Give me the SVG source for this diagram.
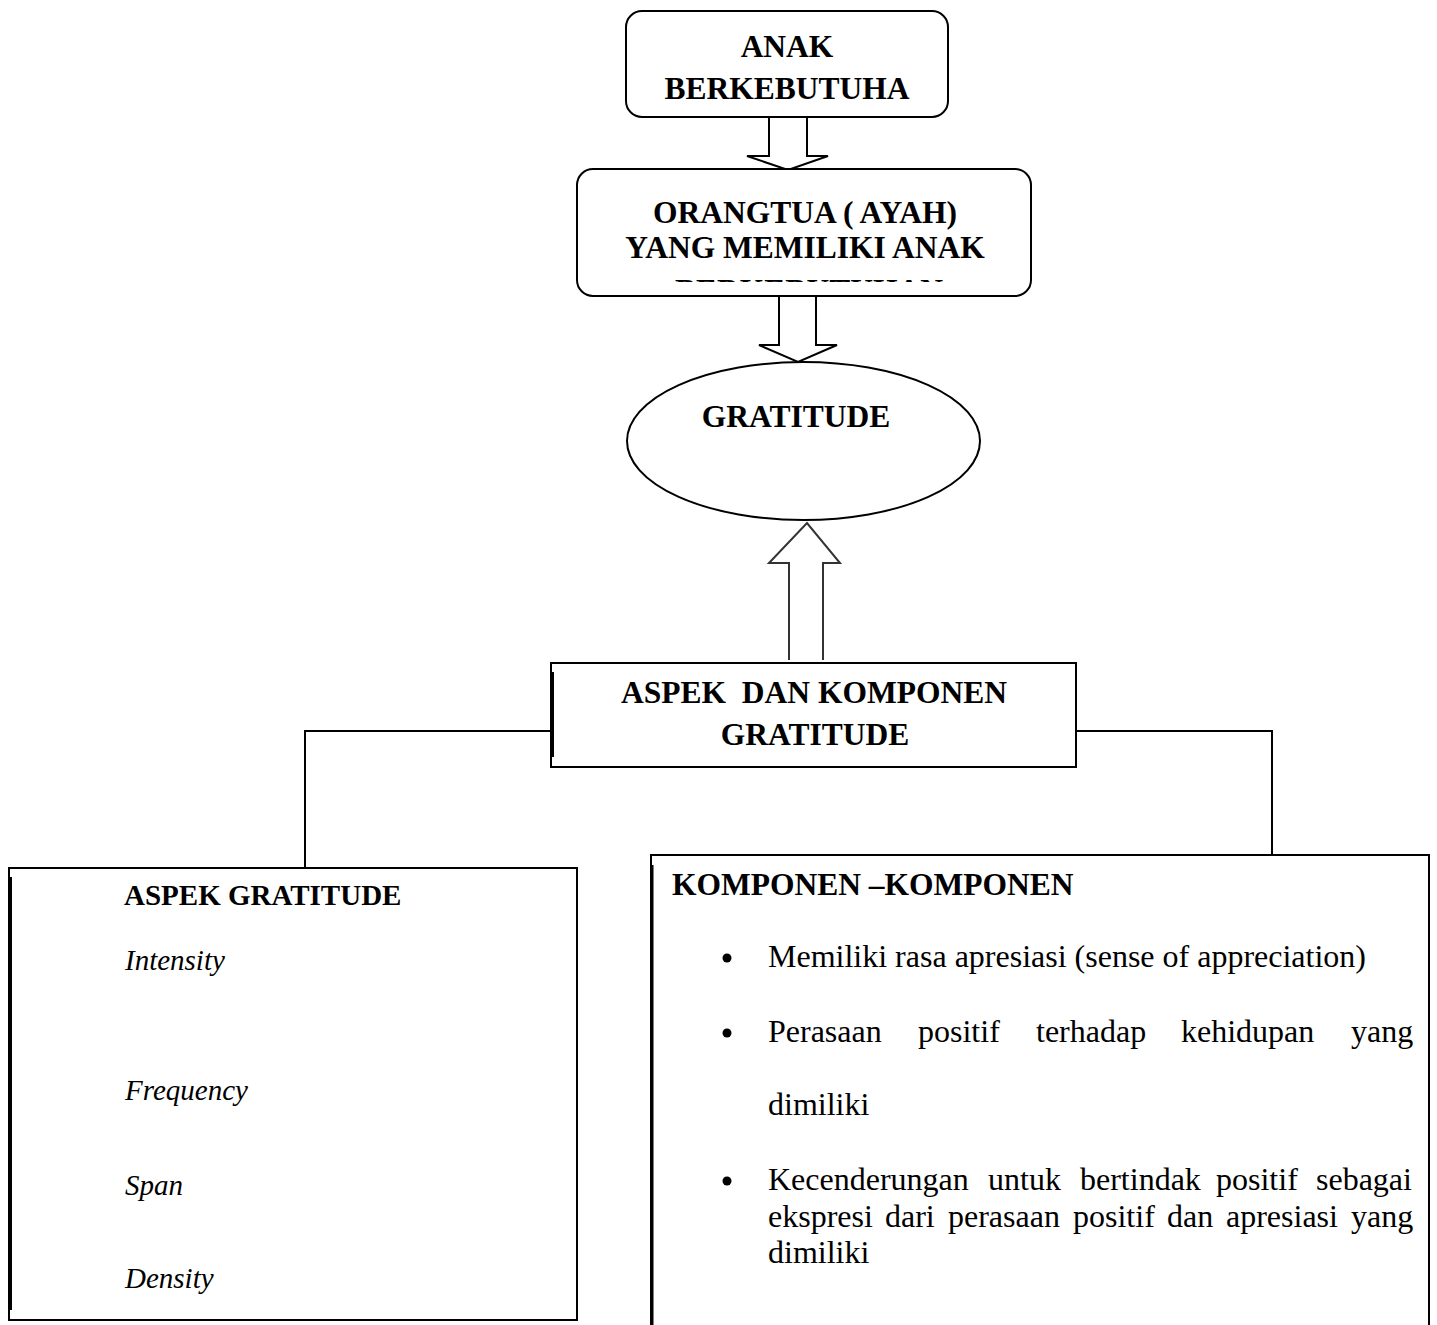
<svg xmlns="http://www.w3.org/2000/svg" width="1437" height="1325" viewBox="0 0 1437 1325">
<style>
.box{fill:#fff;stroke:#000;stroke-width:2}
.arrow{fill:#fff;stroke:#000;stroke-width:2;stroke-linejoin:miter}
.conn{fill:none;stroke:#000;stroke-width:2}
.tb{font-family:"Liberation Serif","Times New Roman",serif;font-weight:bold;font-size:31.5px;fill:#000}
.ti{font-family:"Liberation Serif","Times New Roman",serif;font-style:italic;font-size:29px;fill:#000}
.tr{font-family:"Liberation Serif","Times New Roman",serif;font-size:32px;fill:#000}
</style>
<defs>
<clipPath id="clip2"><rect x="577" y="169" width="454" height="113"/></clipPath>
</defs>
<rect width="1437" height="1325" fill="#fff"/>
<g id="connectors">
<path class="arrow" d="M769,117 L769,156 L747,156 L788,170 L828,156 L807,156 L807,117"/>
<path class="arrow" d="M779,295 L779,345 L759,345 L798,362 L837,345 L816,345 L816,295"/>
<path class="arrow" style="stroke:#333" d="M789,660 L789,563 L769,563 L807,523 L840,563 L823,563 L823,660"/>
<path class="conn" d="M551,731 L305,731 L305,868"/>
<path class="conn" d="M1076,731 L1272,731 L1272,855"/>
</g>
<g id="node-anak">
<rect class="box" x="626" y="11" width="322" height="106" rx="16"/>
<text class="tb" x="787" y="57" text-anchor="middle">ANAK</text>
<text class="tb" x="787" y="99" text-anchor="middle">BERKEBUTUHA</text>
</g>
<g id="node-orangtua">
<rect class="box" x="577" y="169" width="454" height="127" rx="16"/>
<text class="tb" x="805" y="223" text-anchor="middle">ORANGTUA ( AYAH)</text>
<text class="tb" x="805" y="258" text-anchor="middle">YANG MEMILIKI ANAK</text>
<g clip-path="url(#clip2)"><text class="tb" x="809" y="301" text-anchor="middle">BERKEBUTUHAN</text></g>
</g>
<g id="node-gratitude">
<ellipse class="box" cx="803.5" cy="441" rx="176.5" ry="79"/>
<text class="tb" x="796" y="427" text-anchor="middle">GRATITUDE</text>
</g>
<g id="node-aspek-komponen">
<rect class="box" x="551" y="663" width="525" height="104"/>
<line x1="552.5" y1="672" x2="552.5" y2="757" stroke="#000" stroke-width="3"/>
<text class="tb" x="814" y="703" text-anchor="middle" xml:space="preserve">ASPEK  DAN KOMPONEN</text>
<text class="tb" x="815" y="745" text-anchor="middle">GRATITUDE</text>
</g>
<g id="node-aspek">
<rect class="box" x="9" y="868" width="568" height="452"/>
<line x1="10.5" y1="877" x2="10.5" y2="1310" stroke="#000" stroke-width="3"/>
<text class="tb" x="124" y="905" style="font-size:29px">ASPEK GRATITUDE</text>
<text class="ti" x="125" y="970">Intensity</text>
<text class="ti" x="125" y="1100">Frequency</text>
<text class="ti" x="125" y="1195">Span</text>
<text class="ti" x="125" y="1288">Density</text>
</g>
<g id="node-komponen">
<path class="box" d="M651,1330 L651,855 L1429,855 L1429,1330"/>
<line x1="652.5" y1="865" x2="652.5" y2="1325" stroke="#000" stroke-width="2"/>
<text class="tb" x="672" y="895">KOMPONEN –KOMPONEN</text>
<circle cx="727" cy="958" r="4.5" fill="#000"/>
<circle cx="727" cy="1033" r="4.5" fill="#000"/>
<circle cx="727" cy="1181" r="4.5" fill="#000"/>
<text class="tr" x="768" y="967">Memiliki rasa apresiasi (sense of appreciation)</text>
<text class="tr" y="1042"><tspan x="768">Perasaan</tspan><tspan x="918">positif</tspan><tspan x="1036">terhadap</tspan><tspan x="1181">kehidupan</tspan><tspan x="1351">yang</tspan></text>
<text class="tr" x="768" y="1115">dimiliki</text>
<text class="tr" y="1190"><tspan x="768">Kecenderungan</tspan><tspan x="988">untuk</tspan><tspan x="1080">bertindak</tspan><tspan x="1216">positif</tspan><tspan x="1316">sebagai</tspan></text>
<text class="tr" y="1227"><tspan x="768">ekspresi</tspan><tspan x="885">dari</tspan><tspan x="948">perasaan</tspan><tspan x="1073">positif</tspan><tspan x="1167">dan</tspan><tspan x="1226">apresiasi</tspan><tspan x="1351">yang</tspan></text>
<text class="tr" x="768" y="1263">dimiliki</text>
</g>
</svg>
